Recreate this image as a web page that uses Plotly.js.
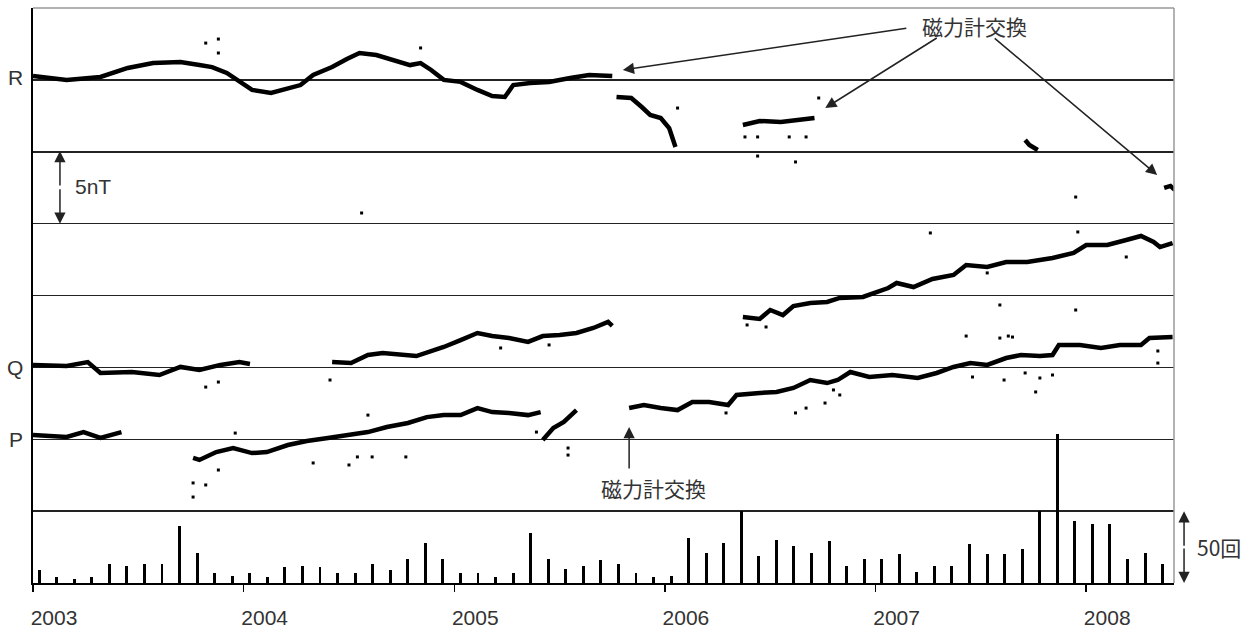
<!DOCTYPE html>
<html><head><meta charset="utf-8">
<script src="https://cdn.plot.ly/plotly-3.0.1.min.js"></script>
<style>html,body{margin:0;padding:0;background:#fff}#chart{width:1249px;height:632px}</style>
</head><body><div id="chart"></div>
<script>
// ---- Data (x: decimal year, y: offset in nT on the stacked plot) ----
const rX = [2003.00,2003.16,2003.32,2003.45,2003.57,2003.70,2003.79,2003.85,2003.92,2003.98,2004.04,2004.13,2004.21,2004.27,2004.33,2004.42,2004.49,2004.55,2004.63,2004.74,2004.79,2004.84,2004.89,2004.95,2005.03,2005.11,2005.18,2005.24,2005.28,2005.36,2005.45,2005.55,2005.64,2005.75,null,
  2005.77,2005.84,2005.89,2005.93,2005.98,2006.02,2006.05,null,
  2006.37,2006.45,2006.55,2006.64,2006.71,null,
  2007.71,2007.73,2007.77,null,
  2008.37,2008.40,2008.42];
const rY = [35.27,35.00,35.20,35.83,36.17,36.24,36.03,35.89,35.48,34.86,34.30,34.09,34.44,34.64,35.34,35.89,36.45,36.87,36.73,36.24,36.03,36.17,35.69,35.00,34.86,34.30,33.88,33.81,34.64,34.78,34.86,35.13,35.34,35.27,null,
  33.81,33.74,33.11,32.56,32.35,31.65,30.33,null,
  31.86,32.14,32.07,32.21,32.35,null,
  30.82,30.47,30.12,null,
  27.48,27.62,27.34];
const rOutX = [2003.82,2003.88,2003.88,2004.84,2004.56,2007.95,2006.06,2006.38,2006.44,2006.59,2006.67,2006.44,2006.62,2006.73];
const rOutY = [37.56,37.84,36.87,37.22,25.74,26.85,33.04,31.03,31.03,31.03,31.03,29.70,29.29,33.74];

const qX = [2003.00,2003.16,2003.26,2003.32,2003.47,2003.60,2003.70,2003.79,2003.89,2003.98,2004.03,null,
  2004.42,2004.51,2004.59,2004.66,2004.82,2004.95,2005.03,2005.11,2005.18,2005.26,2005.35,2005.42,2005.50,2005.58,2005.66,2005.73,2005.75,null,
  2006.37,2006.45,2006.50,2006.56,2006.61,2006.69,2006.77,2006.83,2006.94,2007.06,2007.10,2007.18,2007.27,2007.37,2007.43,2007.53,2007.62,2007.72,2007.84,2007.94,2008.00,2008.10,2008.19,2008.26,2008.32,2008.35,2008.41];
const qY = [15.17,15.10,15.37,14.61,14.68,14.47,15.03,14.82,15.17,15.37,15.24,null,
  15.37,15.30,15.86,16.00,15.79,16.42,16.90,17.39,17.18,17.04,16.77,17.18,17.25,17.39,17.74,18.16,17.88,null,
  18.50,18.37,18.99,18.64,19.27,19.48,19.55,19.83,19.90,20.52,20.87,20.59,21.15,21.43,22.12,21.98,22.33,22.33,22.61,22.96,23.51,23.51,23.86,24.14,23.72,23.37,23.65];
const qOutX = [2003.82,2003.88,2004.41,2007.26,2007.96,2008.19,2007.53,2005.22,2005.45,2006.48,2006.39,2007.59,2007.95];
const qOutY = [13.63,13.98,14.12,24.35,24.42,22.68,21.57,16.35,16.56,17.81,17.95,19.34,18.99];

const pX = [2003.00,2003.16,2003.24,2003.32,2003.42,null,
  2003.76,2003.79,2003.87,2003.95,2004.04,2004.11,2004.21,2004.30,2004.40,2004.49,2004.59,2004.68,2004.78,2004.87,2004.95,2005.03,2005.11,2005.18,2005.26,2005.35,2005.41,null,
  2005.42,2005.47,2005.52,2005.58,null,
  2005.83,2005.90,2005.98,2006.06,2006.13,2006.21,2006.30,2006.34,2006.45,2006.53,2006.61,2006.69,2006.77,2006.82,2006.88,2006.97,2007.08,2007.20,2007.29,2007.37,2007.45,2007.53,2007.62,2007.69,2007.78,2007.84,2007.87,2007.97,2008.07,2008.16,2008.26,2008.30,2008.41];
const pY = [10.30,10.16,10.50,10.09,10.50,null,
  8.70,8.56,9.11,9.39,9.04,9.11,9.60,9.88,10.09,10.30,10.50,10.85,11.13,11.54,11.68,11.68,12.17,11.89,11.83,11.68,11.89,null,
  9.95,10.78,11.20,12.03,null,
  12.17,12.38,12.17,12.03,12.59,12.59,12.38,13.08,13.22,13.29,13.57,14.12,13.91,14.12,14.68,14.33,14.47,14.26,14.61,15.03,15.30,15.17,15.65,15.86,15.79,15.86,16.56,16.56,16.35,16.56,16.56,17.04,17.11];
const pOutX = [2003.76,2003.76,2003.82,2003.88,2003.96,2004.33,2004.50,2004.54,2004.59,2004.61,2004.77,2005.39,2005.54,2005.54,2006.29,2006.62,2006.67,2006.76,2006.80,2006.83,2007.46,2007.61,2007.71,2007.76,2007.78,2007.84,2008.34,2007.43,2007.59,2007.63,2007.65,2008.34];
const pOutY = [6.96,5.98,6.82,7.86,10.43,8.35,8.21,8.77,11.68,8.77,8.77,10.50,8.90,9.39,11.83,11.83,12.17,12.52,13.43,13.08,14.33,14.12,14.61,13.29,14.26,14.47,15.30,17.18,17.04,17.18,17.11,16.14];

// Monthly event counts (回), Jan 2003 – May 2008
const countMonths = [];
for (let y = 2003; y <= 2008; y++) for (let m = 1; m <= 12; m++) { if (y === 2008 && m > 5) break; countMonths.push(y + '-' + String(m).padStart(2, '0')); }
const counts = [
  9,4,3,4,13,12,13,13,40,21,7,5,
  7,4,11,12,11,7,7,13,9,17,28,17,
  7,7,4,7,35,17,10,12,16,13,7,4,
  5,31,21,28,50,19,30,26,21,29,12,17,
  17,20,8,12,12,27,20,20,24,50,104,43,
  41,41,17,21,13];

const yearTicks = [2003,2004,2005,2006,2007,2008];
const yearLabels = ['2003','2004','2005','2006','2007','2008'];
const bandLines = [5,10,15,20,25,30,35];

// month label -> decimal year position (bar sits a little after month start)
const monthToX = s => { const [y, m] = s.split('-').map(Number); return y + (m - 1 + 0.35) / 12; };

const line = (x, y) => ({x, y, type:'scatter', mode:'lines', line:{color:'#000', width:4.5}, hoverinfo:'skip', connectgaps:false});
const dots = (x, y) => ({x, y, type:'scatter', mode:'markers', marker:{color:'#000', size:3, symbol:'square'}, hoverinfo:'skip'});

const traces = [
  line(rX, rY), dots(rOutX, rOutY),
  line(qX, qY), dots(qOutX, qOutY),
  line(pX, pY), dots(pOutX, pOutY),
  {x: countMonths.map(monthToX), y: counts, type:'bar', yaxis:'y2', width:0.014, marker:{color:'#000', line:{width:0}}, hoverinfo:'skip'}
];

const F = '"Liberation Sans", Arial, "Noto Sans CJK JP", sans-serif';
const JF = '"Noto Sans CJK JP", "Liberation Sans", sans-serif';
const AC = '#222';
const arrow = (x, y, ax, ay, extra) => Object.assign({x, y, ax, ay, xref:'x', yref:'y', text:'', showarrow:true, arrowhead:2, arrowsize:1.5, arrowwidth:1.5, arrowcolor:AC}, extra || {});

const layout = {
  width:1249, height:632,
  margin:{l:33, r:75, t:8, b:49, pad:0},
  paper_bgcolor:'#fff', plot_bgcolor:'#fff',
  showlegend:false,
  bargap:0,
  xaxis:{
    range:[2003, 2008.4167], tickvals:yearTicks, ticktext:yearLabels,
    ticks:'outside', ticklen:7, tickwidth:1.5, tickcolor:'#000',
    showline:true, linecolor:'#000', linewidth:2, showgrid:false, zeroline:false,
    tickfont:{family:F, size:21, color:'#333'}, ticklabelshift:21, ticklabelstandoff:8
  },
  yaxis:{
    range:[0, 40], tickvals:bandLines, showticklabels:false, ticks:'',
    showgrid:true, gridcolor:'#222', gridwidth:1.5, zeroline:false,
    showline:true, linecolor:'#000', linewidth:2
  },
  yaxis2:{range:[0, 400], overlaying:'y', visible:false, fixedrange:true},
  shapes:[
    {type:'line', xref:'paper', yref:'paper', x0:0, x1:1, y0:1, y1:1, line:{color:'#999', width:1.5}},
    {type:'line', xref:'paper', yref:'paper', x0:1, x1:1, y0:0, y1:1, line:{color:'#999', width:1.5}}
  ],
  annotations:[
    {xref:'paper', yref:'y', x:-0.007, y:35.2, xanchor:'right', text:'R', showarrow:false, font:{family:F, size:21, color:'#333'}},
    {xref:'paper', yref:'y', x:-0.007, y:15, xanchor:'right', text:'Q', showarrow:false, font:{family:F, size:21, color:'#333'}},
    {xref:'paper', yref:'y', x:-0.007, y:10, xanchor:'right', text:'P', showarrow:false, font:{family:F, size:21, color:'#333'}},
    {xref:'x', yref:'y', x:2003.19, y:27.55, xanchor:'left', text:'5nT', showarrow:false, font:{family:F, size:21, color:'#333'}},
    arrow(2003.128, 30.05, 0, 36),
    arrow(2003.128, 25.0, 0, -36),
    {xref:'x', yref:'y', x:2007.468, y:38.75, text:'磁力計交換', showarrow:false, font:{family:JF, size:21, color:'#333'}},
    arrow(2005.80, 35.69, 285, -42),
    arrow(2006.761, 33.04, 113, -71),
    arrow(2008.337, 28.38, -164, -138),
    {xref:'x', yref:'y', x:2005.944, y:6.61, text:'磁力計交換', showarrow:false, font:{family:JF, size:21, color:'#333'}},
    arrow(2005.830, 10.85, 0, 43),
    arrow(1.0088, 5.0, 0, 36, {xref:'paper'}),
    arrow(1.0088, 0.0, 0, -36, {xref:'paper'}),
    {xref:'paper', yref:'y', x:1.0185, y:2.5, xanchor:'left', text:'50回', showarrow:false, font:{family:JF, size:21, color:'#333'}}
  ]
};

Plotly.newPlot('chart', traces, layout, {staticPlot:true, displayModeBar:false});
</script></body></html>
